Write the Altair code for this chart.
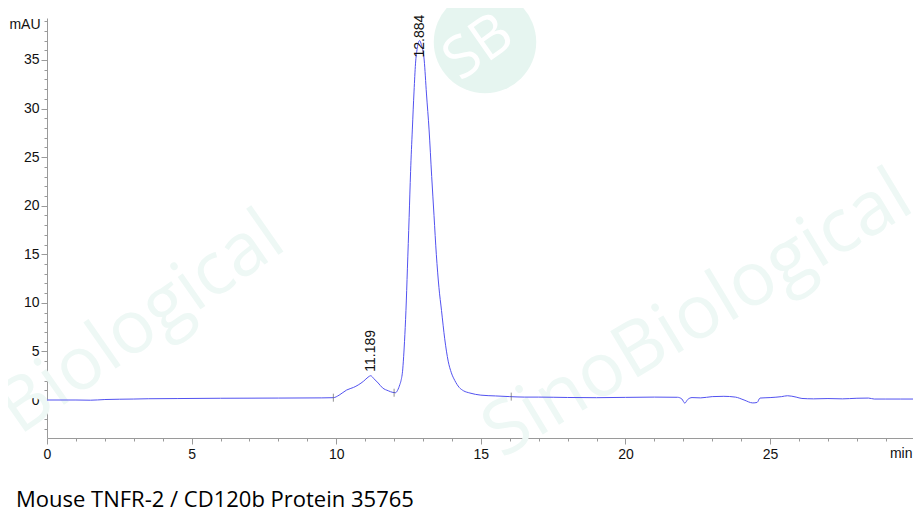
import altair as alt
import pandas as pd

# Chromatogram trace (retention time in min, absorbance in mAU)
times = [0.0, 1.0, 1.5, 2.0, 3.0, 3.5, 4.5, 6.0, 8.0, 9.5, 9.9,
         10.1, 10.36, 10.6, 10.76, 10.95, 11.1, 11.19, 11.3, 11.45, 11.6, 11.8, 11.96,
         12.05, 12.12, 12.2, 12.24, 12.3, 12.32, 12.36, 12.41, 12.46, 12.52, 12.57, 12.63,
         12.69, 12.74, 12.8, 12.884, 12.94, 13.04, 13.12, 13.21, 13.3, 13.38, 13.46, 13.55,
         13.64, 13.75, 13.87, 13.98, 14.1, 14.25, 14.4, 14.62, 15.0, 15.5, 16.0,
         16.5, 17.0, 18.0, 19.0, 20.0, 21.0, 21.8, 21.95, 22.05, 22.15, 22.3, 22.6,
         23.0, 23.4, 23.8, 24.1, 24.4, 24.55, 24.65, 25.0, 25.4, 25.6, 25.9, 26.1,
         26.5, 27.0, 27.5, 28.0, 28.4, 28.6, 29.0, 29.5, 29.94]
values = [0.0, 0.0, -0.02, 0.05, 0.1, 0.13, 0.15, 0.18, 0.2, 0.22, 0.24,
          0.5, 1.03, 1.3, 1.55, 1.95, 2.35, 2.5, 2.2, 1.75, 1.25, 0.95, 0.78,
          0.75, 1.0, 1.6, 2.0, 3.2, 4.0, 6.0, 9.2, 13.5, 18.8, 23.5, 27.8,
          31.8, 34.6, 36.2, 37.0, 36.6, 35.0, 31.5, 27.8, 23.0, 19.0, 15.0, 11.6,
          9.2, 6.3, 4.0, 2.8, 2.0, 1.3, 0.95, 0.72, 0.5, 0.42, 0.35,
          0.3, 0.3, 0.26, 0.24, 0.27, 0.3, 0.28, 0.1, -0.32, 0.05, 0.25, 0.22,
          0.35, 0.38, 0.3, 0.0, -0.3, -0.25, 0.2, 0.25, 0.35, 0.44, 0.3, 0.16,
          0.12, 0.15, 0.12, 0.18, 0.2, 0.1, 0.1, 0.1, 0.1]

# Peak annotations
peak_times = [11.189, 12.884]
peak_values = [2.5, 37.0]
peak_labels = ["11.189", "12.884"]

# Integration (baseline) markers
marker_times = [9.9, 12.0, 16.05]
marker_values = [0.24, 0.75, 0.35]

# Axis ticks
x_major = [0, 5, 10, 15, 20, 25]
x_minor = [v for v in range(0, 30) if v % 5 != 0]
y_major = [0, 5, 10, 15, 20, 25, 30, 35]
y_minor = [v for v in range(-3, 40) if v % 5 != 0]

title_text = "Mouse TNFR-2 / CD120b Protein 35765"

W, H = 866, 420
X_DOMAIN = [0, 29.94]
Y_DOMAIN = [-3.91, 39.32]
AXIS_FONT = "Liberation Sans"
GRAY = "#9a9a9a"

df = pd.DataFrame({"t": times, "v": values})
peaks = pd.DataFrame({"t": peak_times, "v": peak_values, "label": peak_labels})
markers = pd.DataFrame({"t": marker_times, "v": marker_values})
one = pd.DataFrame({"a": [0]})

xscale = alt.Scale(domain=X_DOMAIN, nice=False, zero=False)
yscale = alt.Scale(domain=Y_DOMAIN, nice=False, zero=False)

common = dict(grid=False, domainColor=GRAY, tickColor=GRAY, labelColor="#111",
              labelFont=AXIS_FONT, labelFontSize=14, titleFont=AXIS_FONT,
              titleFontSize=14, titleFontWeight="normal", titleColor="#111", titleAngle=0)

xaxis = alt.Axis(
    values=x_major, tickSize=6, labelPadding=3, orient="bottom", labelFlush=False,
    title="min", titleX=865, titleY=15, titleAlign="right", titleBaseline="middle",
    **common,
)
yaxis = alt.Axis(
    values=y_major, tickSize=6, labelPadding=2, orient="left", labelFlush=False,
    title="mAU", titleX=-7, titleY=6, titleAlign="right", titleBaseline="middle",
    **common,
)
xaxis_minor = alt.Axis(values=x_minor, tickSize=3, labels=False, domain=False, grid=False,
                       tickColor=GRAY, title=None, orient="bottom")
yaxis_minor = alt.Axis(values=y_minor, tickSize=3, labels=False, domain=False, grid=False,
                       tickColor=GRAY, title=None, orient="left")

WM = "#eef8f5"
wm_left = alt.Chart(one).mark_text(
    text="Biological", font="Open Sans", fontSize=74, angle=325,
    align="left", baseline="middle", color=WM,
).encode(x=alt.value(-40), y=alt.value(400))
wm_right = alt.Chart(one).mark_text(
    text="SinoBiological", font="Open Sans", fontSize=75, angle=329,
    align="right", baseline="middle", color=WM,
).encode(x=alt.value(858), y=alt.value(172))
wm_circle = alt.Chart(one).mark_point(
    shape="circle", filled=True, size=10500, color="#e6f5f0", opacity=1,
).encode(x=alt.value(438), y=alt.value(24))
wm_sb = alt.Chart(one).mark_text(
    text="SB", font="Open Sans", fontSize=58, angle=325,
    align="center", baseline="middle", color="#ffffff",
).encode(x=alt.value(432), y=alt.value(30))

line = alt.Chart(df).mark_line(
    color="#5252f0", strokeWidth=1, interpolate="monotone",
).encode(
    x=alt.X("t:Q", scale=xscale, axis=xaxis),
    y=alt.Y("v:Q", scale=yscale, axis=yaxis),
)

ticks = alt.Chart(markers).mark_point(
    shape="M0,-1L0,1", size=64, filled=False, color="#666666", strokeWidth=1,
).encode(
    x=alt.X("t:Q", scale=xscale, axis=xaxis_minor),
    y=alt.Y("v:Q", scale=yscale, axis=yaxis_minor),
)

peak_base = alt.Chart(peaks).encode(
    x=alt.X("t:Q", scale=xscale, axis=None), y=alt.Y("v:Q", scale=yscale, axis=None),
    text="label:N",
)
label_small = peak_base.transform_filter(alt.datum.label == "11.189").mark_text(
    angle=270, align="left", baseline="middle", font=AXIS_FONT, fontSize=14, color="#111", dx=4,
)
label_main = peak_base.transform_filter(alt.datum.label == "12.884").mark_text(
    angle=270, align="left", baseline="middle", font=AXIS_FONT, fontSize=14, color="#111", dx=-17,
)

title = alt.Chart(one).mark_text(
    text=title_text, font="Open Sans", fontSize=22, align="left", baseline="alphabetic", color="#000",
).encode(x=alt.value(-31), y=alt.value(489))

chart = alt.layer(
    wm_left, wm_right, wm_circle, wm_sb, line, ticks, label_small, label_main, title
).resolve_axis(x="independent", y="independent").properties(
    width=W, height=H,
    autosize=alt.AutoSizeParams(type="none"),
    padding={"left": 39, "top": 10, "right": 0, "bottom": 80},
).configure_view(stroke=None)

chart.save("out.html", embed_options={"renderer": "svg", "actions": False})
